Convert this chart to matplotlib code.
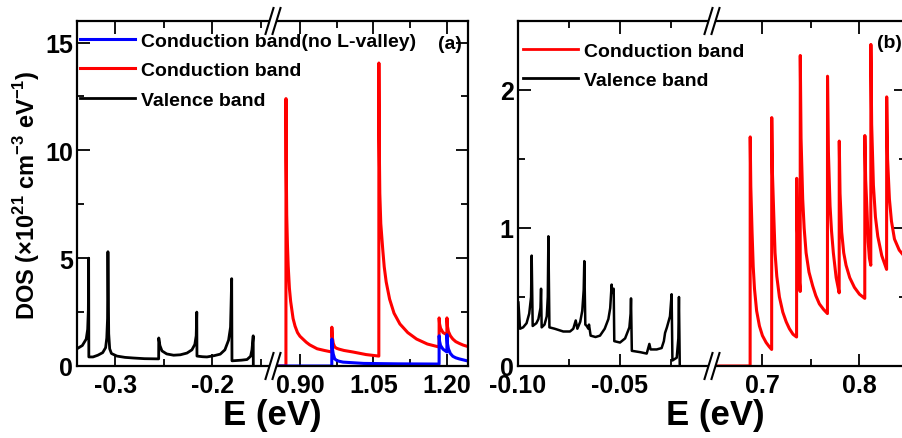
import matplotlib
matplotlib.use("Agg")
import matplotlib.pyplot as plt
from matplotlib.lines import Line2D
from matplotlib.patches import Polygon

plt.rcParams["font.family"] = ["Liberation Sans", "DejaVu Sans"]
plt.rcParams["font.weight"] = "bold"
plt.rcParams["axes.unicode_minus"] = False
plt.rcParams["mathtext.fontset"] = "custom"
plt.rcParams["mathtext.rm"] = "Liberation Sans:bold"
plt.rcParams["mathtext.bf"] = "Liberation Sans:bold"

# ---- data ---------------------------------------------------------------
# panel (a) valence band
va_E = [-0.3395, -0.3340, -0.3300, -0.3285, -0.3278, -0.3275, -0.3273, -0.3230, -0.3180,
        -0.3130, -0.3100, -0.3088, -0.3080, -0.3076, -0.3068, -0.3058, -0.3040, -0.2983,
        -0.2900, -0.2811, -0.2700, -0.2553, -0.2552, -0.2540, -0.2519, -0.2470, -0.2399,
        -0.2330, -0.2261, -0.2210, -0.2180, -0.2166, -0.2160, -0.2158, -0.2100, -0.2055,
        -0.1980, -0.1918, -0.1870, -0.1832, -0.1812, -0.1800, -0.1797, -0.1700, -0.1642,
        -0.1605, -0.1591, -0.1578, -0.1577]
va_D = [0.80, 0.95, 1.25, 1.70, 2.60, 5.00, 0.42, 0.42, 0.50,
        0.62, 0.85, 1.30, 2.20, 5.30, 1.50, 0.80, 0.58, 0.46,
        0.40, 0.37, 0.34, 0.33, 1.30, 0.95, 0.70, 0.56, 0.50,
        0.52, 0.60, 0.75, 1.00, 1.40, 2.50, 0.46, 0.43, 0.42,
        0.48, 0.55, 0.75, 1.20, 1.80, 4.05, 0.24, 0.27, 0.30,
        0.45, 0.75, 1.40, 0.00]

# panel (a) conduction band
ca_E = [0.8450, 0.8714, 0.8715, 0.8720, 0.8730, 0.8745, 0.8760, 0.8785, 0.8810, 0.8860,
        0.8900, 0.8950, 0.9000, 0.9060, 0.9130, 0.9200, 0.9350, 0.9500, 0.9650, 0.9651,
        0.9660, 0.9680, 0.9710, 0.9750, 0.9800, 0.9900, 1.0080, 1.0350, 1.0610, 1.0611,
        1.0618, 1.0630, 1.0650, 1.0690, 1.0720, 1.0760, 1.0830, 1.0920, 1.1040, 1.1200,
        1.1380, 1.1600, 1.1840, 1.1841, 1.1850, 1.1870, 1.1920, 1.1999, 1.2000, 1.2010,
        1.2030, 1.2070, 1.2120, 1.2180, 1.2250, 1.2330, 1.2430]
ca_D = [0.00, 0.00, 12.40, 9.50, 7.00, 5.60, 4.65, 3.60, 3.00, 2.20,
        1.85, 1.55, 1.38, 1.25, 1.10, 0.98, 0.80, 0.72, 0.65, 1.80,
        1.35, 1.05, 0.88, 0.82, 0.78, 0.72, 0.65, 0.53, 0.46, 14.05,
        10.50, 8.00, 6.60, 5.40, 4.60, 3.90, 3.10, 2.45, 1.95, 1.55,
        1.25, 1.02, 0.88, 2.23, 1.95, 1.75, 1.55, 1.45, 2.23, 1.85,
        1.60, 1.40, 1.25, 1.13, 1.05, 0.97, 0.90]

# panel (a) conduction band without L-valley
cn_E = [0.8450, 0.9650, 0.9651, 0.9660, 0.9680, 0.9710, 0.9750, 0.9800, 0.9880, 1.0300,
        1.1000, 1.1840, 1.1841, 1.1850, 1.1870, 1.1920, 1.1999, 1.2000, 1.2010, 1.2030,
        1.2070, 1.2120, 1.2180, 1.2250, 1.2430]
cn_D = [0.00, 0.00, 1.25, 0.85, 0.55, 0.33, 0.26, 0.22, 0.18, 0.12,
        0.10, 0.09, 1.40, 1.15, 0.95, 0.78, 0.65, 1.45, 1.05, 0.80,
        0.58, 0.45, 0.38, 0.33, 0.23]

# panel (b) valence band
vb_E = [-0.0998, -0.0990, -0.0975, -0.0958, -0.0945, -0.0936, -0.0933, -0.0928, -0.0910,
        -0.0900, -0.0890, -0.0887, -0.0884, -0.0870, -0.0859, -0.0854, -0.0851, -0.0846,
        -0.0820, -0.0778, -0.0745, -0.0729, -0.0717, -0.0709, -0.0695, -0.0685, -0.0678,
        -0.0675, -0.0670, -0.0663, -0.0655, -0.0652, -0.0644, -0.0620, -0.0598, -0.0575,
        -0.0557, -0.0548, -0.0541, -0.0538, -0.0536, -0.0531, -0.0528, -0.0500, -0.0475,
        -0.0454, -0.0448, -0.0446, -0.0442, -0.0400, -0.0369, -0.0356, -0.0350, -0.0320,
        -0.0296, -0.0285, -0.0279, -0.0270, -0.0255, -0.0247, -0.0243, -0.0222, -0.0214,
        -0.0211, -0.0207]
vb_D = [0.46, 0.27, 0.28, 0.31, 0.38, 0.50, 0.80, 0.29, 0.31,
        0.34, 0.42, 0.56, 0.28, 0.30, 0.36, 0.50, 0.94, 0.28,
        0.27, 0.25, 0.25, 0.27, 0.33, 0.27, 0.32, 0.40, 0.55,
        0.76, 0.30, 0.29, 0.27, 0.30, 0.22, 0.21, 0.22, 0.27,
        0.34, 0.42, 0.59, 0.53, 0.54, 0.56, 0.18, 0.17, 0.20,
        0.28, 0.38, 0.49, 0.11, 0.10, 0.09, 0.16, 0.12, 0.12,
        0.13, 0.18, 0.24, 0.28, 0.36, 0.52, 0.04, 0.06, 0.20,
        0.50, 0.00]

# panel (b) conduction band
cb_E = [0.6480, 0.6873, 0.6874, 0.6880, 0.6893, 0.6905, 0.6918, 0.6940, 0.6969, 0.7000,
        0.7038, 0.7070, 0.7095, 0.7096, 0.7103, 0.7117, 0.7130, 0.7148, 0.7175, 0.7210,
        0.7245, 0.7278, 0.7315, 0.7352, 0.7353, 0.7360, 0.7370, 0.7380, 0.7389, 0.7390,
        0.7398, 0.7415, 0.7430, 0.7450, 0.7480, 0.7518, 0.7550, 0.7587, 0.7630, 0.7670,
        0.7671, 0.7680, 0.7697, 0.7712, 0.7731, 0.7760, 0.7791, 0.7792, 0.7800, 0.7817,
        0.7838, 0.7862, 0.7900, 0.7948, 0.8000, 0.8055, 0.8056, 0.8064, 0.8079, 0.8090,
        0.8103, 0.8117, 0.8118, 0.8126, 0.8144, 0.8165, 0.8189, 0.8230, 0.8280, 0.8281,
        0.8290, 0.8309, 0.8330, 0.8361, 0.8410, 0.8480]
cb_D = [0.00, 0.00, 1.66, 1.30, 0.97, 0.72, 0.56, 0.40, 0.29, 0.22,
        0.17, 0.14, 0.12, 1.80, 1.40, 1.09, 0.82, 0.65, 0.50, 0.39,
        0.32, 0.27, 0.23, 0.21, 1.36, 1.00, 0.78, 0.62, 0.54, 2.25,
        1.65, 1.21, 1.00, 0.82, 0.68, 0.58, 0.51, 0.45, 0.41, 0.38,
        2.10, 1.55, 1.16, 0.98, 0.82, 0.64, 0.53, 1.63, 1.25, 0.97,
        0.82, 0.73, 0.64, 0.57, 0.52, 0.49, 1.67, 1.35, 1.11, 0.90,
        0.78, 0.73, 2.33, 1.75, 1.31, 1.08, 0.94, 0.80, 0.70, 1.95,
        1.50, 1.21, 1.05, 0.92, 0.84, 0.78]

# ticks
a_left_major = [-0.3, -0.2]
a_left_labels = ["-0.3", "-0.2"]
a_left_minor = [-0.25, -0.15]
a_right_major = [0.90, 1.05, 1.20]
a_right_labels = ["0.90", "1.05", "1.20"]
a_right_minor = [0.975, 1.125]
b_left_major = [-0.10, -0.05]
b_left_labels = ["-0.10", "-0.05"]
b_left_minor = [-0.075, -0.025]
b_right_major = [0.7, 0.8]
b_right_labels = ["0.7", "0.8"]
b_right_minor = [0.75]

# ---- figure ------------------------------------------------------------
W, H = 903, 439
fig = plt.figure(figsize=(W / 100, H / 100), dpi=100)

TOP, BOT = 22, 367


def add_ax(x0, x1):
    return fig.add_axes([x0 / W, (H - BOT) / H, (x1 - x0) / W, (BOT - TOP) / H])


def style(ax, side, major, labels, minor, xlim, ylim, ymaj, ymin, ylab):
    ax.set_xlim(*xlim)
    ax.set_ylim(*ylim)
    ax.set_xticks(major)
    ax.set_xticklabels(labels)
    ax.set_xticks(minor, minor=True)
    ax.set_yticks(ymaj)
    ax.set_yticks(ymin, minor=True)
    for s in ax.spines.values():
        s.set_linewidth(1.6)
    if side == "left":
        ax.spines["right"].set_visible(False)
        ax.tick_params(which="both", direction="in", top=True, right=False,
                       left=True, labelleft=ylab)
    else:
        ax.spines["left"].set_visible(False)
        ax.tick_params(which="both", direction="in", top=True, right=True,
                       left=False, labelleft=False)
    ax.tick_params(which="major", length=9, width=1.3, labelsize=18)
    ax.tick_params(which="minor", length=5, width=1.3)
    ax.tick_params(axis="x", pad=5)
    ax.tick_params(axis="y", pad=3)
    ax.patch.set_alpha(0)


# panel (a)
axL = add_ax(77, 273)
axR = add_ax(273, 468)
axL.plot(va_E, va_D, color="black", lw=2)
lr, = axR.plot(ca_E, ca_D, color="red", lw=2.2)
lb, = axR.plot(cn_E, cn_D, color="blue", lw=2.2)
style(axL, "left", a_left_major, a_left_labels, a_left_minor,
      (-0.3395, -0.1374), (0, 16), [0, 5, 10, 15], [2.5, 7.5, 12.5], True)
style(axR, "right", a_right_major, a_right_labels, a_right_minor,
      (0.845, 1.243), (0, 16), [0, 5, 10, 15], [2.5, 7.5, 12.5], False)
lk = Line2D([], [], color="black", lw=2)
fig.legend([lb, lr, lk],
           ["Conduction band(no L-valley)", "Conduction band", "Valence band"],
           loc="upper left", bbox_to_anchor=(80 / W, 1 - 33 / H), frameon=False,
           fontsize=14, handlelength=2.85, handletextpad=0.28, labelspacing=0.62,
           borderaxespad=0, borderpad=0)
axR.text(0.97, 0.935, "(a)", transform=axR.transAxes, ha="right", va="center",
         fontsize=14, fontweight="bold")

fig.text(27 / W, 1 - 195 / H,
         "DOS (×10$^{21}$ cm$^{-3}$ eV$^{-1}$)",
         rotation=90, ha="center", va="center", fontsize=17, fontweight="bold")
fig.text(272 / W, 1 - 415 / H, "E (eV)", ha="center", va="center",
         fontsize=25, fontweight="bold")

# panel (b)
bxL = add_ax(518, 712)
bxR = add_ax(712, 906)
bxL.plot(vb_E, vb_D, color="black", lw=1.8)
bxR.plot(cb_E, cb_D, color="red", lw=2.2)
style(bxL, "left", b_left_major, b_left_labels, b_left_minor,
      (-0.10, -0.0049), (0, 2.5), [0, 1, 2], [0.5, 1.5], True)
style(bxR, "right", b_right_major, b_right_labels, b_right_minor,
      (0.648, 0.848), (0, 2.5), [0, 1, 2], [0.5, 1.5], False)
fig.legend([Line2D([], [], color="red", lw=2), Line2D([], [], color="black", lw=2)],
           ["Conduction band", "Valence band"],
           loc="upper left", bbox_to_anchor=(523 / W, 1 - 43 / H), frameon=False,
           fontsize=14, handlelength=2.85, handletextpad=0.28, labelspacing=0.62,
           borderaxespad=0, borderpad=0)
fig.text(889 / W, 1 - 43 / H, "(b)", ha="center", va="center",
         fontsize=14, fontweight="bold")
fig.text(715 / W, 1 - 415 / H, "E (eV)", ha="center", va="center",
         fontsize=25, fontweight="bold")


# axis break marks "//"
def brk(xc, yc):
    h, s, g = 13, 4, 3.5
    pts = [(xc - g - s, yc + h), (xc - g + s, yc - h), (xc + g + s, yc - h), (xc + g - s, yc + h)]
    fig.add_artist(Polygon([(px / W, 1 - py / H) for px, py in pts], closed=True,
                           facecolor="white", edgecolor="none", zorder=5))
    for off in (-g, g):
        fig.add_artist(Line2D([(xc + off - s) / W, (xc + off + s) / W],
                              [1 - (yc + h) / H, 1 - (yc - h) / H],
                              color="black", lw=1.5, zorder=6))


for xb in (273, 712):
    brk(xb, TOP)
    brk(xb, BOT)

fig.savefig("out.png", dpi=100)
